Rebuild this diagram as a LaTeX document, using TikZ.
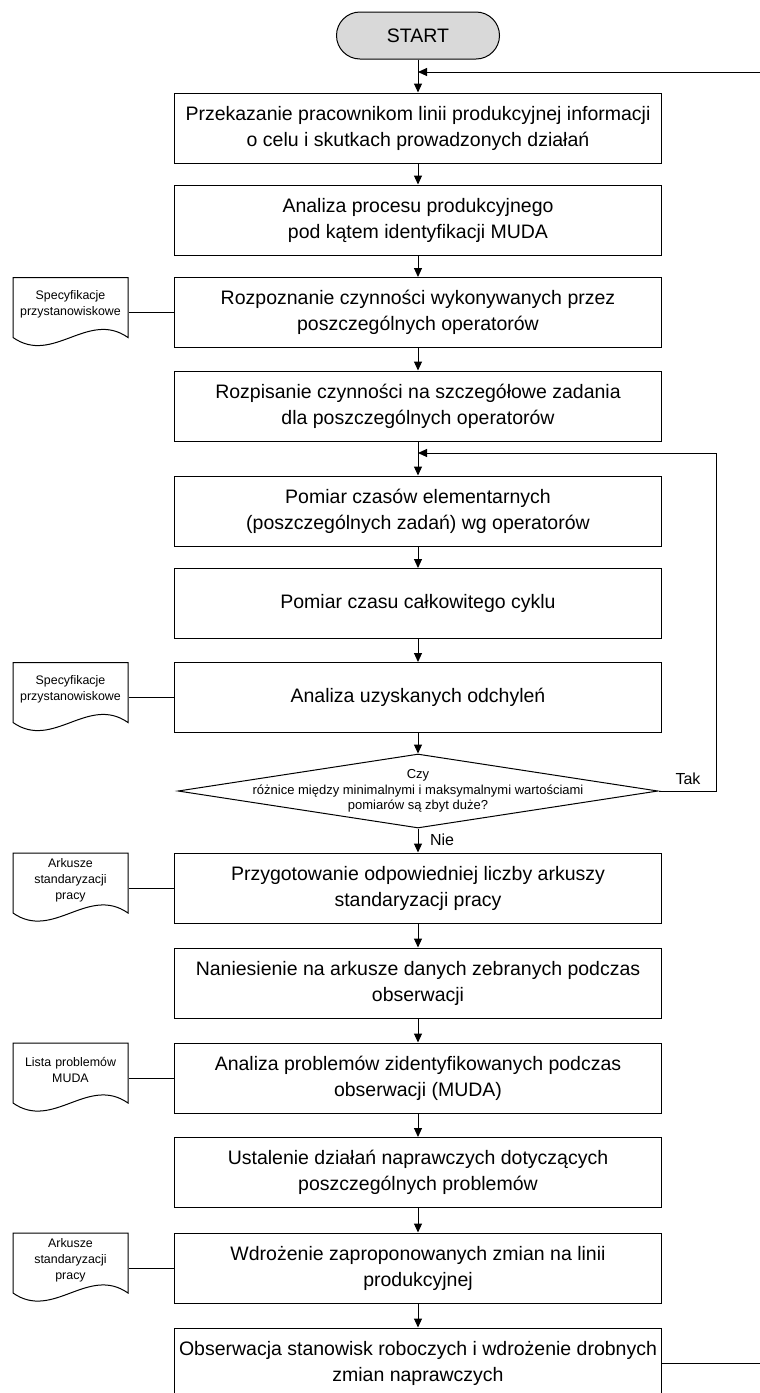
\documentclass[tikz,border=0pt]{standalone}
\usepackage{fontspec}
\setmainfont{Liberation Sans}
\usetikzlibrary{shapes.geometric,arrows.meta}
\tikzset{
  procbox/.style={draw, rectangle, minimum width=243.5pt, minimum height=35pt, inner sep=0pt, align=center, font=\fontsize{9.75}{13}\selectfont},
  startbox/.style={draw, rectangle, rounded corners=11.75pt, fill=black!15, minimum width=81.5pt, minimum height=23.5pt, font=\fontsize{9.75}{13}\selectfont},
  decision/.style={draw, diamond, minimum width=240pt, minimum height=37pt, inner sep=0pt},
  dectext/.style={align=center, inner sep=0pt, font=\fontsize{6.5}{7.6}\selectfont},
  doctext/.style={text width=57.5pt, inner sep=0pt, align=center, font=\fontsize{6.2}{8}\selectfont},
  lbl/.style={inner sep=0pt, font=\fontsize{8}{9.6}\selectfont}
}
\begin{document}
\begin{tikzpicture}[x=0.5pt,y=-0.5pt,line width=0.5pt,>={Triangle[length=4.5pt,width=4pt]}]
\useasboundingbox (0,0) rectangle (760,1393);
\node[startbox] (start) at (418,35.5) {START};
\node[procbox] (b1) at (418,128) {Przekazanie pracownikom linii produkcyjnej informacji\\o celu i skutkach prowadzonych działań};
\node[procbox] (b2) at (418,220) {Analiza procesu produkcyjnego\\pod kątem identyfikacji MUDA};
\node[procbox] (b3) at (418,312.5) {Rozpoznanie czynności wykonywanych przez\\poszczególnych operatorów};
\node[procbox] (b4) at (418,406) {Rozpisanie czynności na szczegółowe zadania\\dla poszczególnych operatorów};
\node[procbox] (b5) at (418,511) {Pomiar czasów elementarnych\\(poszczególnych zadań) wg operatorów};
\node[procbox] (b6) at (418,603.5) {Pomiar czasu całkowitego cyklu};
\node[procbox] (b7) at (418,697.5) {Analiza uzyskanych odchyleń};
\node[decision, label={[dectext]center:{Czy\\różnice między minimalnymi i maksymalnymi wartościami\\pomiarów są zbyt duże?}}] (dec) at (418,791) {};
\node[procbox] (b8) at (418,888) {Przygotowanie odpowiedniej liczby arkuszy\\standaryzacji pracy};
\node[procbox] (b9) at (418,983) {Naniesienie na arkusze danych zebranych podczas\\obserwacji};
\node[procbox] (b10) at (418,1078) {Analiza problemów zidentyfikowanych podczas\\obserwacji (MUDA)};
\node[procbox] (b11) at (418,1172.5) {Ustalenie działań naprawczych dotyczących\\poszczególnych problemów};
\node[procbox] (b12) at (418,1268) {Wdrożenie zaproponowanych zmian na linii\\produkcyjnej};
\node[procbox] (b13) at (418,1363) {Obserwacja stanowisk roboczych i wdrożenie drobnych\\zmian naprawczych};
%
\begin{scope}[shift={(13,277.5)}]
\draw (0,0) -- (115,0) -- (115,60) .. controls (75,32) and (40,88) .. (0,60) -- cycle;
\node[doctext] (spec1) at (57.5,27) {Specyfikacje\\przystanowiskowe};
\end{scope}
%
\begin{scope}[shift={(13,662.5)}]
\draw (0,0) -- (115,0) -- (115,60) .. controls (75,32) and (40,88) .. (0,60) -- cycle;
\node[doctext] (spec2) at (57.5,27) {Specyfikacje\\przystanowiskowe};
\end{scope}
%
\begin{scope}[shift={(13,853)}]
\draw (0,0) -- (115,0) -- (115,60) .. controls (75,32) and (40,88) .. (0,60) -- cycle;
\node[doctext] (ark1) at (57.5,27) {Arkusze\\standaryzacji\\pracy};
\end{scope}
%
\begin{scope}[shift={(13,1043)}]
\draw (0,0) -- (115,0) -- (115,60) .. controls (75,32) and (40,88) .. (0,60) -- cycle;
\node[doctext] (lista) at (57.5,27) {Lista problemów\\MUDA};
\end{scope}
%
\begin{scope}[shift={(13,1233)}]
\draw (0,0) -- (115,0) -- (115,60) .. controls (75,32) and (40,88) .. (0,60) -- cycle;
\node[doctext] (ark2) at (57.5,27) {Arkusze\\standaryzacji\\pracy};
\end{scope}
%
\draw [->] (start) -- (b1);
\draw [->] (b1) -- (b2);
\draw [->] (b2) -- (b3);
\draw [->] (b3) -- (b4);
\draw [->] (b4) -- (b5);
\draw [->] (b5) -- (b6);
\draw [->] (b6) -- (b7);
\draw [->] (b7) -- (dec);
\draw [->] (dec) -- (b8);
\draw [->] (b8) -- (b9);
\draw [->] (b9) -- (b10);
\draw [->] (b10) -- (b11);
\draw [->] (b11) -- (b12);
\draw [->] (b12) -- (b13);
\node[lbl] (nie) at (442,840) {Nie};
%
\draw (b3.west) -- (b3.west -| spec1.east);
\draw (b7.west) -- (b7.west -| spec2.east);
\draw (b8.west) -- (b8.west -| ark1.east);
\draw (b10.west) -- (b10.west -| lista.east);
\draw (b12.west) -- (b12.west -| ark2.east);
%
\coordinate (lpr) at (716,453);
\draw [->] (dec.east) -| (lpr) -- (lpr -| b4.south);
\node[lbl] (tak) at (688,779) {Tak};
%
\coordinate (rtop) at (760,72);
\coordinate (rbot) at (760,1363);
\draw [->] (rtop) -- (rtop -| start.south);
\draw (b13.east) -- (rbot);
\end{tikzpicture}
\end{document}
